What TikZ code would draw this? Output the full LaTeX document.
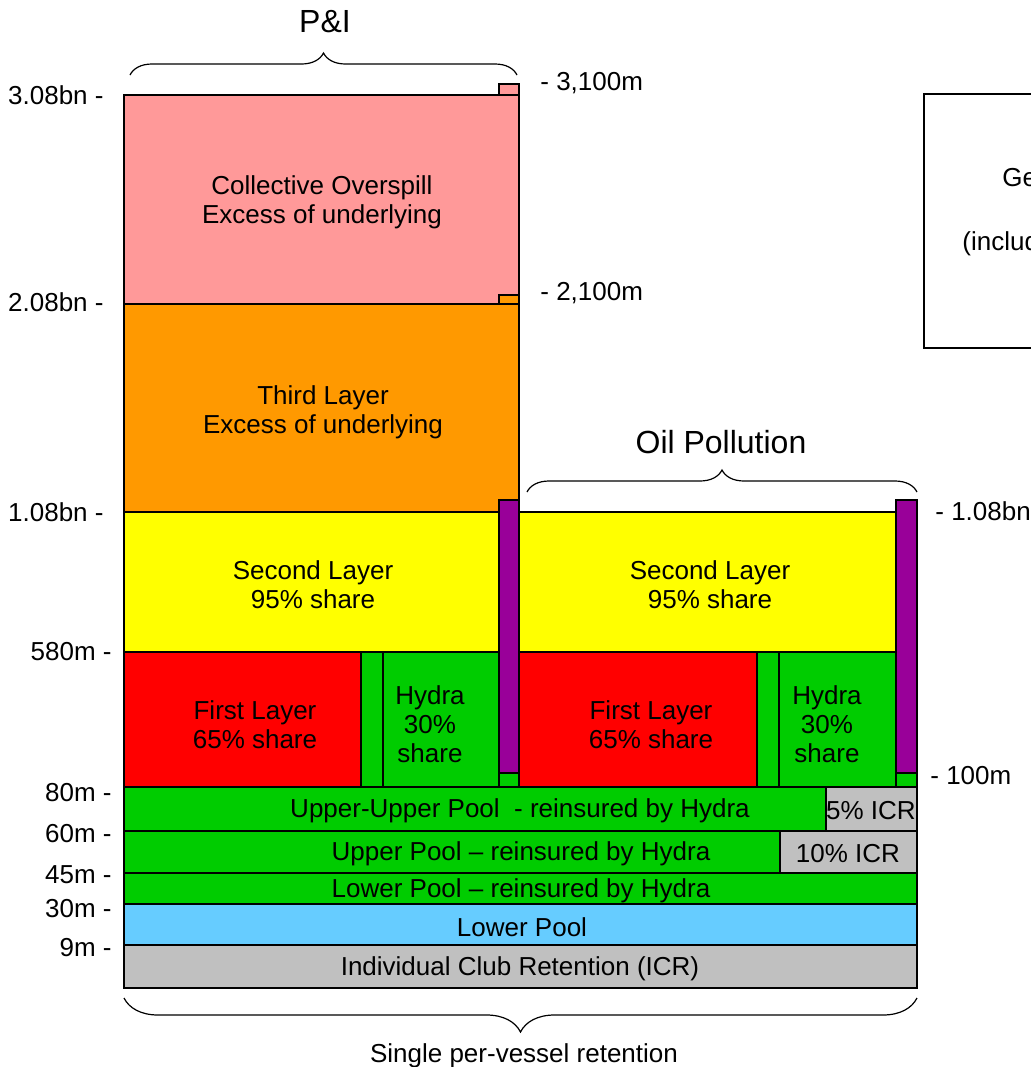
\documentclass[tikz,border=0pt]{standalone}
\usepackage{fontspec}
\setmainfont{Liberation Sans}
\usetikzlibrary{
  decorations.pathreplacing
}
\definecolor{overspill}{HTML}{FF9999}
\definecolor{thirdlayer}{HTML}{FF9900}
\definecolor{secondlayer}{HTML}{FFFF00}
\definecolor{firstlayer}{HTML}{FF0000}
\definecolor{hydragreen}{HTML}{00CC00}
\definecolor{oilbar}{HTML}{990099}
\definecolor{lowerpool}{HTML}{66CCFF}
\definecolor{icrgrey}{HTML}{C0C0C0}

\begin{document}
\begin{tikzpicture}[
  x=0.5pt, y=-0.5pt,
  layer/.style={draw=black, line width=1.2pt},
  lbl/.style={font=\fontsize{13}{14.5}\selectfont, align=center, inner sep=0pt},
  head/.style={font=\fontsize{16}{18}\selectfont, inner sep=0pt},
  bracebar/.style={decorate, decoration={brace, amplitude=#1}, line width=0.6pt},
]
\useasboundingbox (0,0) rectangle (1031,1067);
\filldraw[layer, fill=overspill] (124,95) rectangle (519,304);
\filldraw[layer, fill=overspill] (499,84) rectangle (519,95);
\filldraw[layer, fill=thirdlayer] (124,304) rectangle (519,512);
\filldraw[layer, fill=thirdlayer] (499,295) rectangle (519,304);
\filldraw[layer, fill=secondlayer] (124,512) rectangle (499,652);
\filldraw[layer, fill=firstlayer] (124,652) rectangle (361,787);
\filldraw[layer, fill=hydragreen] (361,652) rectangle (383,787);
\filldraw[layer, fill=hydragreen] (383,652) rectangle (499,787);
\filldraw[layer, fill=oilbar] (499,500) rectangle (519,773);
\filldraw[layer, fill=hydragreen] (499,773) rectangle (519,787);
\filldraw[layer, fill=secondlayer] (519,512) rectangle (896,652);
\filldraw[layer, fill=firstlayer] (519,652) rectangle (757,787);
\filldraw[layer, fill=hydragreen] (757,652) rectangle (779,787);
\filldraw[layer, fill=hydragreen] (779,652) rectangle (896,787);
\filldraw[layer, fill=oilbar] (896,500) rectangle (917,773);
\filldraw[layer, fill=hydragreen] (896,773) rectangle (917,787);
\filldraw[layer, fill=hydragreen] (124,787) rectangle (826,831);
\filldraw[layer, fill=icrgrey] (826,787) rectangle (917,831);
\filldraw[layer, fill=hydragreen] (124,831) rectangle (780,873);
\filldraw[layer, fill=icrgrey] (780,831) rectangle (917,873);
\filldraw[layer, fill=hydragreen] (124,873) rectangle (917,904);
\filldraw[layer, fill=lowerpool] (124,904) rectangle (917,945);
\filldraw[layer, fill=icrgrey] (124,945) rectangle (917,988);
\draw[layer] (924,94) rectangle (1080,348);

\node[lbl] (overspillText) at (322,202) {Collective Overspill\\Excess of underlying};
\node[lbl] (thirdText) at (323,412) {Third Layer\\Excess of underlying};
\node[lbl] (secondPI) at (313,585) {Second Layer\\95\% share};
\node[lbl] (secondOP) at (710,585) {Second Layer\\95\% share};
\node[lbl] (firstPI) at (255,725) {First Layer\\65\% share};
\node[lbl] (firstOP) at (651,725) {First Layer\\65\% share};
\node[lbl] (hydraPI) at (430,724) {Hydra\\30\%\\share};
\node[lbl] (hydraOP) at (827,724) {Hydra\\30\%\\share};
\node[lbl] (upperUpper) at (520,811) {Upper-Upper Pool\ \ - reinsured by Hydra};
\node[lbl] (icrFive) at (871,811) {5\% ICR};
\node[lbl] (upperPool) at (521,854) {Upper Pool – reinsured by Hydra};
\node[lbl] (icrTen) at (848,854) {10\% ICR};
\node[lbl] (lowerHydra) at (521,891) {Lower Pool – reinsured by Hydra};
\node[lbl] (lowerPool) at (522,927) {Lower Pool};
\node[lbl] (icrText) at (520,969) {Individual Club Retention (ICR)};
\node[lbl, anchor=west] (boxGe) at (1002,178) {Ge};
\node[lbl, anchor=west] (boxIncl) at (962,244) {(includ};

\foreach \y/\t in {95/3.08bn, 302/2.08bn, 512/1.08bn}
  \node[lbl, anchor=east] (ax\y) at (104,\y) {\t\ -};
\foreach \y/\t in {652/580m, 793/80m, 834/60m, 875/45m, 909/30m, 948/9m}
  \node[lbl, anchor=east] (ax\y) at (112,\y) {\t\ -};
\node[lbl, anchor=west] (top3100) at (540,83) {- 3,100m};
\node[lbl, anchor=west] (top2100) at (540,293) {- 2,100m};
\node[lbl, anchor=west] (oil108) at (935,511) {- 1.08bn};
\node[lbl, anchor=west] (oil100) at (930,776) {- 100m};

\coordinate (piL) at (130,75);
\coordinate (piR) at (517,75);
\coordinate (opL) at (527,492);
\coordinate (opR) at (917,492);
\coordinate (svL) at (124,998);
\coordinate (svR) at (917,998);
\draw[bracebar=11pt] (piL) -- (piR);
\draw[bracebar=11pt] (opL) -- (opR);
\draw[bracebar=17pt] (svR) -- (svL);
\node[head] (piHead) at (325,22) {P\&I};
\node[head] (opHead) at (721,442) {Oil Pollution};
\node[lbl] (svText) at (524,1056) {Single per-vessel retention};
\end{tikzpicture}
\end{document}
